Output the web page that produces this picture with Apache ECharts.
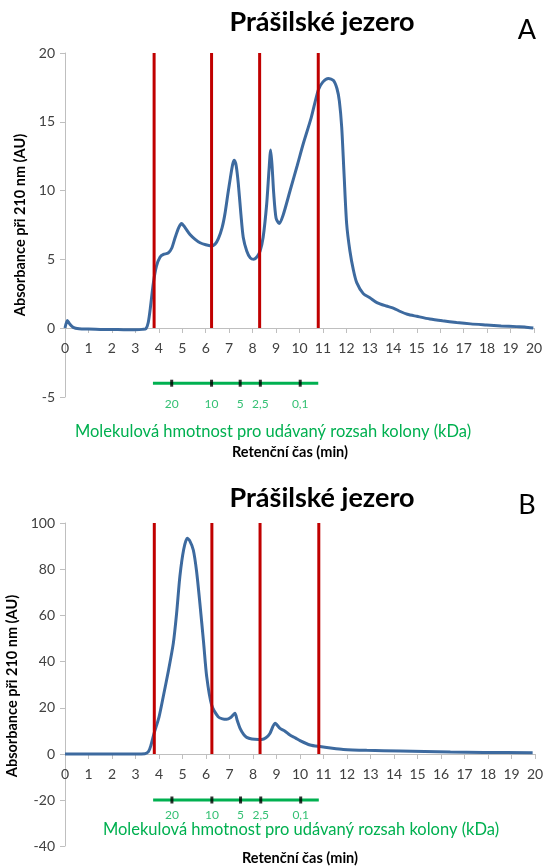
<!DOCTYPE html>
<html>
<head>
<meta charset="utf-8">
<script src="https://cdn.jsdelivr.net/npm/echarts@6/dist/echarts.min.js"></script>
<style>
  html, body { margin: 0; padding: 0; background: #fff; }
  #chart { width: 547px; height: 867px; }
</style>
</head>
<body>
<div id="chart"></div>
<script>
// Retention time (min) and absorbance at 210 nm (AU), panel A
const timeA = [0, 0.1, 0.2, 0.35, 0.6, 1, 1.5, 2, 2.5, 3, 3.3, 3.45, 3.55, 3.65, 3.77, 3.9, 4.05, 4.2, 4.4, 4.55,
  4.7, 4.85, 4.97, 5.1, 5.33, 5.55, 5.76, 6.0, 6.23, 6.4, 6.54, 6.7, 6.82, 6.95, 7.05, 7.15, 7.22, 7.3, 7.39, 7.5,
  7.6, 7.75, 7.9, 8.05, 8.2, 8.32, 8.45, 8.6, 8.7, 8.77, 8.83, 8.9, 9.0, 9.13, 9.3, 9.6, 9.9, 10.16, 10.5, 10.8,
  11.0, 11.23, 11.45, 11.6, 11.7, 11.8, 11.9, 12.01, 12.15, 12.3, 12.44, 12.72, 13.0, 13.3, 13.7, 14.0, 14.3, 14.6,
  15.0, 15.56, 16.1, 16.7, 17.3, 17.98, 18.6, 19.26, 19.6, 19.97];
const absA = [0, 0.55, 0.3, 0.05, -0.05, -0.08, -0.1, -0.1, -0.12, -0.12, -0.1, -0.05, 0.4, 1.6, 3.3, 4.5, 5.15, 5.35, 5.45, 5.8,
  6.6, 7.3, 7.6, 7.35, 6.8, 6.45, 6.2, 6.05, 5.97, 6.1, 6.5, 7.3, 8.3, 9.8, 10.9, 11.9, 12.2, 11.8, 10.5, 8.3,
  6.6, 5.6, 5.1, 5.0, 5.2, 5.6, 6.6, 9.0, 11.5, 12.95, 11.8, 9.8, 8.0, 7.6, 8.2, 10.0, 11.8, 13.4, 15.3, 17.3,
  17.9, 18.15, 18.0, 17.4, 16.5, 14.6, 11.2, 7.6, 5.6, 4.2, 3.3, 2.5, 2.2, 1.85, 1.6, 1.45, 1.2, 1.0,
  0.85, 0.65, 0.52, 0.4, 0.3, 0.22, 0.15, 0.1, 0.08, 0.0];

// Panel B
const timeB = [0, 0.5, 1, 2, 3, 3.4, 3.55, 3.65, 3.79, 4.0, 4.18, 4.4, 4.61, 4.75, 4.89, 5.05, 5.2, 5.3, 5.46, 5.6,
  5.74, 5.9, 6.03, 6.24, 6.52, 6.7, 6.88, 7.05, 7.23, 7.33, 7.45, 7.6, 7.73, 7.95, 8.23, 8.37, 8.55, 8.72, 8.94, 9.15,
  9.35, 9.57, 9.8, 10.0, 10.43, 10.85, 11.3, 11.84, 12.84, 14.26, 15.3, 16.4, 17.8, 19.9];
const absB = [0, 0, 0, 0, 0, 0.1, 1, 3.5, 8.9, 16, 24.8, 36, 48, 61, 77, 88.5, 93.4, 92.5, 88.3, 79,
  65.2, 48, 33.5, 21.2, 16.1, 15.2, 15.0, 15.8, 17.6, 14.5, 11.1, 8.5, 7.2, 6.5, 6.3, 6.3, 7.0, 8.9, 13.3, 11.1,
  10.0, 8.2, 7.0, 5.8, 3.9, 3.2, 2.6, 2.0, 1.6, 1.3, 1.1, 0.9, 0.7, 0.5];

// Fraction boundaries (min)
const boundaryTimes = [3.8, 6.25, 8.3, 10.8];

// Column calibration: molecular weight marks (kDa) and their retention times
const mwLabels = ['20', '10', '5', '2,5', '0,1'];
const mwTimes = [4.55, 6.25, 7.47, 8.33, 10.03];
const mwRange = [3.75, 10.8];

// Value axis ranges: positive part [0, max, interval], negative part [min, 0, interval]
const yUpperA = [0, 20, 5];
const yLowerA = [-5, 0, 5];
const yUpperB = [0, 100, 20];
const yLowerB = [-40, 0, 20];
const mwLevelA = -4;
const mwLevelB = -20;

const titleText = 'Prášilské jezero';
const yName = 'Absorbance při 210 nm (AU)';
const xName = 'Retenční čas (min)';
const mwName = 'Molekulová hmotnost pro udávaný rozsah kolony (kDa)';

const FONT = 'Lato, "Open Sans", sans-serif';
const BLUE = '#3d6a9f';
const RED = '#c00000';
const GREEN = '#00b050';
const AXIS = '#bfbfbf';
const LABEL = '#404040';

const zip = (xs, ys) => xs.map((x, i) => [x, ys[i]]);

function xAxisFor(gi, visible) {
  return {
    type: 'value', gridIndex: gi, min: 0, max: 20, interval: 1, show: visible,
    axisLine: { show: true, onZero: false, lineStyle: { color: AXIS, width: 1 } },
    axisTick: { show: true, length: 5, lineStyle: { color: AXIS } },
    axisLabel: { color: LABEL, fontSize: 14, fontFamily: FONT, margin: 13 },
    splitLine: { show: false }
  };
}
function yAxisFor(gi, r, hideTop) {
  return {
    type: 'value', gridIndex: gi, min: r[0], max: r[1], interval: r[2],
    axisLine: { show: true, onZero: false, lineStyle: { color: AXIS, width: 1 } },
    axisTick: { show: true, length: 5, lineStyle: { color: AXIS } },
    axisLabel: { color: LABEL, fontSize: 14, fontFamily: FONT, margin: 10, showMaxLabel: !hideTop },
    splitLine: { show: false }
  };
}

// Curve and boundaries in the upper grid, calibration bar in the lower grid
function panelSeries(gUp, gLow, times, vals, yTop, mwLevel, labelDist) {
  const s = [];
  s.push({
    type: 'line', xAxisIndex: gUp, yAxisIndex: gUp,
    data: zip(times, vals), showSymbol: false, symbol: 'none',
    smooth: 0.25, clip: false,
    lineStyle: { color: BLUE, width: 3 }, silent: true, z: 3
  });
  boundaryTimes.forEach(t => {
    s.push({
      type: 'line', xAxisIndex: gUp, yAxisIndex: gUp,
      data: [[t, 0], [t, yTop]], symbol: 'none',
      lineStyle: { color: RED, width: 3 }, silent: true, z: 4
    });
  });
  s.push({
    type: 'line', xAxisIndex: gLow, yAxisIndex: gLow,
    data: [[mwRange[0], mwLevel], [mwRange[1], mwLevel]], symbol: 'none',
    lineStyle: { color: GREEN, width: 3 }, silent: true, z: 4
  });
  s.push({
    type: 'scatter', xAxisIndex: gLow, yAxisIndex: gLow,
    data: mwTimes.map((t, i) => ({ value: [t, mwLevel], label: { formatter: mwLabels[i] } })),
    symbol: 'rect', symbolSize: [3, 7],
    itemStyle: { color: '#000' }, silent: true, z: 5,
    label: { show: true, position: 'bottom', distance: labelDist, color: GREEN, fontSize: 12, fontFamily: FONT }
  });
  return s;
}

function textEl(x, y, text, style, rotation) {
  return {
    type: 'text', x: x, y: y, rotation: rotation || 0, silent: true,
    style: Object.assign({ text: text, fontFamily: FONT, fill: '#000', align: 'center', verticalAlign: 'middle' }, style)
  };
}

const chart = echarts.init(document.getElementById('chart'), null, { renderer: 'canvas' });
chart.setOption({
  animation: false,
  backgroundColor: '#fff',
  grid: [
    { left: 65, right: 13, top: 53, height: 275 },
    { left: 65, right: 13, top: 328, height: 69 },
    { left: 65, right: 12, top: 523, height: 231 },
    { left: 65, right: 12, top: 754, height: 92 }
  ],
  xAxis: [xAxisFor(0, true), xAxisFor(1, false), xAxisFor(2, true), xAxisFor(3, false)],
  yAxis: [yAxisFor(0, yUpperA, false), yAxisFor(1, yLowerA, true), yAxisFor(2, yUpperB, false), yAxisFor(3, yLowerB, true)],
  series: [
    ...panelSeries(0, 1, timeA, absA, yUpperA[1], mwLevelA, 11),
    ...panelSeries(2, 3, timeB, absB, yUpperB[1], mwLevelB, 6)
  ],
  graphic: [
    textEl(322, 22, titleText, { fontSize: 27, fontWeight: 'bold' }),
    textEl(527, 30, 'A', { fontSize: 27 }),
    textEl(20, 225, yName, { fontSize: 14.5, fontWeight: 'bold' }, Math.PI / 2),
    textEl(273, 432, mwName, { fontSize: 16.5, fill: GREEN }),
    textEl(290, 452, xName, { fontSize: 14.5, fontWeight: 'bold' }),
    textEl(322, 498, titleText, { fontSize: 27, fontWeight: 'bold' }),
    textEl(527, 505, 'B', { fontSize: 27 }),
    textEl(12, 686, yName, { fontSize: 14.5, fontWeight: 'bold' }, Math.PI / 2),
    textEl(301, 830, mwName, { fontSize: 16.5, fill: GREEN }),
    textEl(300, 858, xName, { fontSize: 14.5, fontWeight: 'bold' })
  ]
});
</script>
</body>
</html>
